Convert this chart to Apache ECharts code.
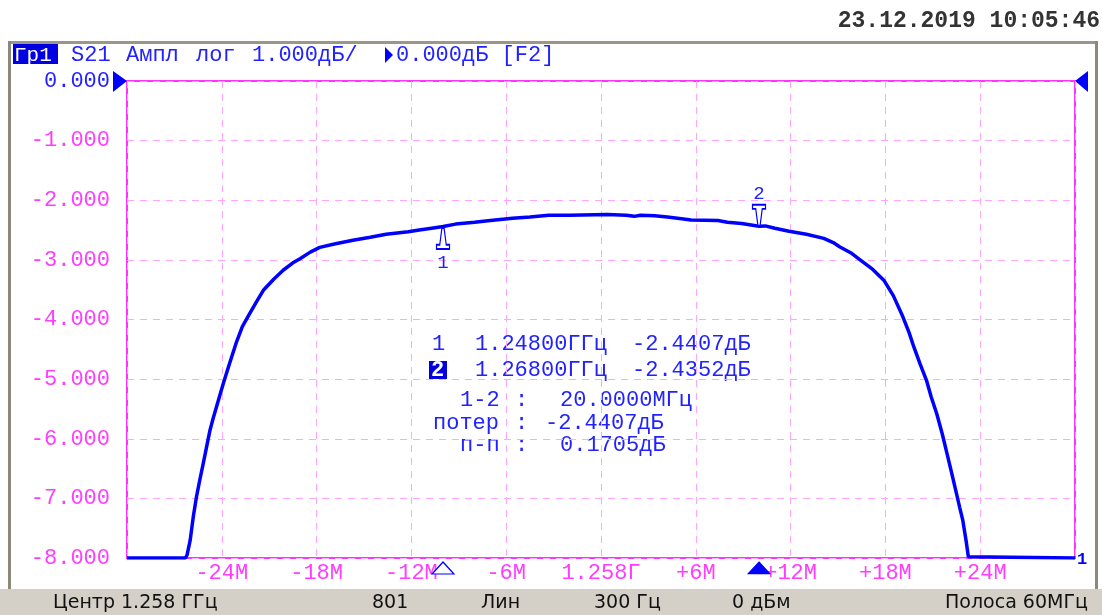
<!DOCTYPE html>
<html><head><meta charset="utf-8">
<script src="https://cdn.jsdelivr.net/npm/echarts@6/dist/echarts.min.js"></script>
<style>html,body{margin:0;padding:0;background:#fff}#c{width:1102px;height:615px}</style>
</head><body><div id="c"></div>
<script>
// Frequency offset from centre (MHz) and S21 amplitude (dB)
const freqMHz = [-30,-26.3,-26.2,-26.0,-25.8,-25.6,-25.4,-25.17,-24.95,-24.75,-24.55,-24.33,-24.1,-23.9,-23.5,-23.06,-22.7,-22.3,-21.8,-21.37,-20.7,-20.1,-19.5,-19.05,-18.4,-17.8,-16.8,-15.7,-14.6,-13.6,-12.2,-11.5,-10.5,-10.0,-9.2,-8.0,-7.0,-5.6,-4.5,-3.3,-2.0,0.4,1.6,2.1,2.5,3.4,4.2,5.1,5.7,7.4,8.0,8.9,10.0,10.4,11.0,11.9,13.0,14.1,14.7,15.1,15.8,16.4,17.2,17.9,18.5,19.1,19.5,19.8,20.2,20.6,20.9,21.25,21.6,21.9,22.2,22.5,22.7,22.9,23.1,23.25,23.3,30];
const ampDb = [-8,-8,-7.95,-7.70,-7.30,-6.97,-6.70,-6.41,-6.12,-5.86,-5.66,-5.46,-5.25,-5.07,-4.73,-4.37,-4.12,-3.93,-3.70,-3.51,-3.32,-3.17,-3.05,-2.98,-2.87,-2.79,-2.73,-2.67,-2.62,-2.57,-2.53,-2.50,-2.46,-2.44,-2.40,-2.37,-2.34,-2.30,-2.28,-2.25,-2.25,-2.24,-2.25,-2.27,-2.25,-2.26,-2.28,-2.31,-2.33,-2.34,-2.37,-2.39,-2.435,-2.43,-2.47,-2.52,-2.57,-2.64,-2.71,-2.78,-2.88,-3.00,-3.16,-3.34,-3.60,-3.95,-4.22,-4.46,-4.75,-5.02,-5.30,-5.58,-5.92,-6.25,-6.58,-6.92,-7.15,-7.37,-7.70,-7.98,-8,-8];

const xTickValues = [-24,-18,-12,-6,0,6,12,18,24];
const xTickLabels = ['-24M','-18M','-12M','-6M','1.258Г','+6M','+12M','+18M','+24M'];
const yTickValues = [0,-1,-2,-3,-4,-5,-6,-7,-8];
const yTickLabels = ['0.000','-1.000','-2.000','-3.000','-4.000','-5.000','-6.000','-7.000','-8.000'];

const markerNames = ['1','2'];
const markerFreqMHz = [-10, 10];
const markerAmpDb = [-2.4407, -2.4352];

const headerWords = ['S21', 'Ампл', 'лог', '1.000дБ/'];
const refText = '0.000дБ [F2]';
const dateText = '23.12.2019 10:05:46';
const readoutLines = [
  ['1.24800ГГц', '-2.4407дБ'],
  ['1.26800ГГц', '-2.4352дБ']
];
const deltaLines = [
  ['1-2', ':', '20.0000МГц'],
  ['потер', ':', '-2.4407дБ'],
  ['п-п', ':', '0.1705дБ']
];
const statusTexts = ['Центр 1.258 ГГц', '801', 'Лин', '300 Гц', '0 дБм', 'Полоса 60МГц'];

const MONO = '"Liberation Mono","DejaVu Sans Mono",monospace';
const SANS = '"DejaVu Sans","Liberation Sans",sans-serif';
const BLUE = '#2222ff';
const TRACE = '#0000ff';
const MAG = '#ff3cff';
const FS = 22;

const chart = echarts.init(document.getElementById('c'));

const mk2Path = 'path://M0,0 L12,0 L12,4 L9,4 L7,20 L5,20 L3,4 L0,4 Z';
const mk1Path = 'path://M5,0 L7,0 L9,16 L12,16 L12,20 L0,20 L0,16 L3,16 Z';

const graphics = [
  // frame
  {type:'rect', shape:{x:8,y:41,width:1089,height:3}, style:{fill:'#9a978a'}, silent:true},
  {type:'rect', shape:{x:8,y:41,width:3,height:548}, style:{fill:'#8c887a'}, silent:true},
  {type:'rect', shape:{x:1095,y:41,width:3,height:548}, style:{fill:'#8c887a'}, silent:true},
  {type:'rect', shape:{x:0,y:589,width:1102,height:26}, style:{fill:'#d4d0c8'}, silent:true},
  // date
  {type:'text', x:1100, y:21, style:{text:dateText, font:'bold 23px '+MONO, fill:'#333333', align:'right', verticalAlign:'middle'}},
  // header
  {type:'rect', shape:{x:13,y:44,width:45,height:20}, style:{fill:'#0000e0'}},
  {type:'text', x:14, y:55, style:{text:'Гр1', font:'21px '+MONO, fill:'#ffffff', verticalAlign:'middle'}},
  {type:'polygon', shape:{points:[[385,47],[393,55],[385,63]]}, style:{fill:TRACE}},
  {type:'text', x:396, y:55, style:{text:refText, font:FS+'px '+MONO, fill:BLUE, verticalAlign:'middle'}},
  // reference level arrows
  {type:'polygon', shape:{points:[[113,71],[127,81],[113,92]]}, style:{fill:TRACE}},
  {type:'polygon', shape:{points:[[1088,71],[1075,81],[1088,92]]}, style:{fill:TRACE}},
  // trace number
  {type:'text', x:1077, y:560, style:{text:'1', font:'bold 17px '+MONO, fill:TRACE, verticalAlign:'middle'}},
  // marker readout
  {type:'text', x:432, y:344, style:{text:markerNames[0], font:FS+'px '+MONO, fill:BLUE, verticalAlign:'middle'}},
  {type:'text', x:475, y:344, style:{text:readoutLines[0][0], font:FS+'px '+MONO, fill:BLUE, verticalAlign:'middle'}},
  {type:'text', x:632, y:344, style:{text:readoutLines[0][1], font:FS+'px '+MONO, fill:BLUE, verticalAlign:'middle'}},
  {type:'rect', shape:{x:429,y:361,width:18,height:18}, style:{fill:'#0000e0'}},
  {type:'text', x:431, y:370, style:{text:markerNames[1], font:'bold '+FS+'px '+MONO, fill:'#ffffff', verticalAlign:'middle'}},
  {type:'text', x:475, y:370, style:{text:readoutLines[1][0], font:FS+'px '+MONO, fill:BLUE, verticalAlign:'middle'}},
  {type:'text', x:632, y:370, style:{text:readoutLines[1][1], font:FS+'px '+MONO, fill:BLUE, verticalAlign:'middle'}},
];
const headerX = [71, 126, 196, 252];
headerWords.forEach((w, i) => {
  graphics.push({type:'text', x:headerX[i], y:55, style:{text:w, font:FS+'px '+MONO, fill:BLUE, verticalAlign:'middle'}});
});
const deltaY = [400, 423, 445];
const deltaX0 = [460, 433, 460];
const deltaX2 = [560, 545, 560];
deltaLines.forEach((ln, i) => {
  graphics.push({type:'text', x:deltaX0[i], y:deltaY[i], style:{text:ln[0], font:FS+'px '+MONO, fill:BLUE, verticalAlign:'middle'}});
  graphics.push({type:'text', x:515, y:deltaY[i], style:{text:ln[1], font:FS+'px '+MONO, fill:BLUE, verticalAlign:'middle'}});
  graphics.push({type:'text', x:deltaX2[i], y:deltaY[i], style:{text:ln[2], font:FS+'px '+MONO, fill:BLUE, verticalAlign:'middle'}});
});
const statusX = [53, 372, 481, 594, 732, 945];
statusTexts.forEach((t, i) => {
  graphics.push({type:'text', x:statusX[i], y:603, style:{text:t, font:'19px '+SANS, fill:'#111111', verticalAlign:'middle'}});
});

const option = {
  animation:false,
  backgroundColor:'#ffffff',
  grid:{left:127, top:81, width:948, height:477, show:true, borderColor:'#ff33ff', borderWidth:2, backgroundColor:'transparent'},
  xAxis:{
    type:'value', min:-30, max:30, interval:6,
    axisLine:{show:false}, axisTick:{show:false},
    splitLine:{show:true, lineStyle:{color:'#ffa6ff', type:[7,6], width:1}},
    axisLabel:{
      margin:4, color:MAG, fontFamily:MONO, fontSize:FS,
      showMinLabel:true, showMaxLabel:true,
      formatter:(v)=>{ const i = xTickValues.indexOf(Math.round(v)); return i>=0 ? xTickLabels[i] : ''; }
    }
  },
  yAxis:{
    type:'value', min:-8, max:0, interval:1,
    axisLine:{show:false}, axisTick:{show:false},
    splitLine:{show:true, lineStyle:{color:'#ffa6ff', type:[7,6], width:1}},
    axisLabel:{
      margin:17, color:MAG, fontFamily:MONO, fontSize:FS,
      showMinLabel:true, showMaxLabel:true,
      formatter:(v)=>{ const i = yTickValues.indexOf(Math.round(v)); const s = i>=0 ? yTickLabels[i] : ''; return v===0 ? '{r|'+s+'}' : s; },
      rich:{r:{color:BLUE, fontFamily:MONO, fontSize:FS}}
    }
  },
  series:[{
    type:'line',
    data:freqMHz.map((f,i)=>[f, ampDb[i]]),
    symbol:'none',
    lineStyle:{color:TRACE, width:3.5},
    clip:true,
    z:3,
    markPoint:{
      silent:true,
      data:[
        {coord:[markerFreqMHz[0], markerAmpDb[0]], symbol:mk1Path, symbolSize:[13,21], symbolOffset:[0,12],
          itemStyle:{color:'#ffffff', borderColor:TRACE, borderWidth:1.5},
          label:{show:true, formatter:markerNames[0], position:'bottom', distance:3, color:BLUE, fontFamily:MONO, fontSize:19}},
        {coord:[markerFreqMHz[1], markerAmpDb[1]], symbol:mk2Path, symbolSize:[13,21], symbolOffset:[0,-11],
          itemStyle:{color:'#ffffff', borderColor:TRACE, borderWidth:1.5},
          label:{show:true, formatter:markerNames[1], position:'top', distance:0, color:BLUE, fontFamily:MONO, fontSize:19}},
        {coord:[markerFreqMHz[0], -8], symbol:'triangle', symbolSize:[22,12], symbolOffset:[0,10],
          itemStyle:{color:'#ffffff', borderColor:TRACE, borderWidth:1.2}, label:{show:false}},
        {coord:[markerFreqMHz[1], -8], symbol:'triangle', symbolSize:[22,12], symbolOffset:[0,10],
          itemStyle:{color:TRACE, borderColor:TRACE, borderWidth:1}, label:{show:false}}
      ]
    }
  }],
  graphic:graphics
};
chart.setOption(option);
</script>
</body></html>
